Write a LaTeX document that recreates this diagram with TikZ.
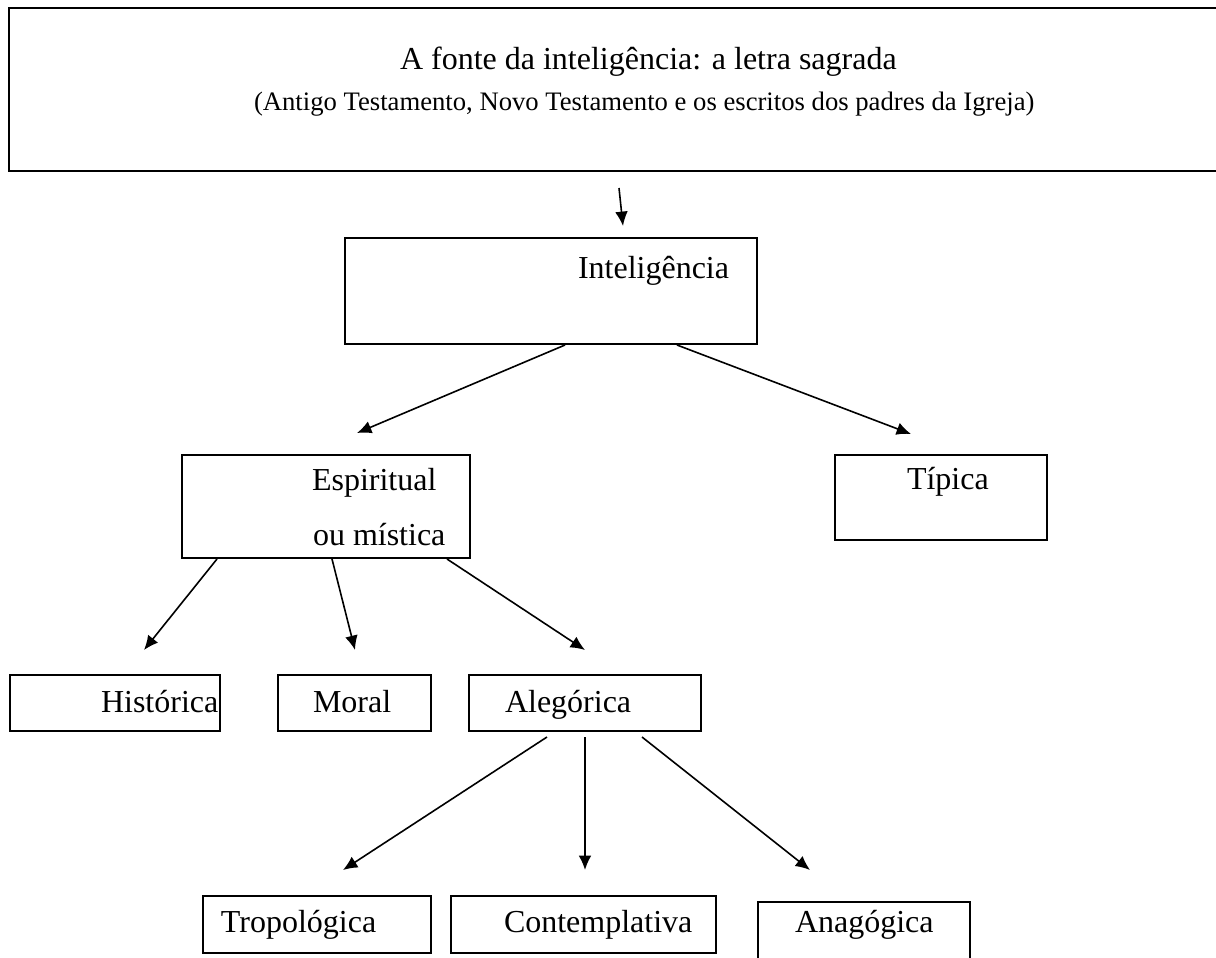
\documentclass[tikz,border=0pt]{standalone}
\usepackage{fontspec}
\setmainfont{Liberation Serif}
\usetikzlibrary{arrows.meta, calc, positioning}

\begin{document}
\begin{tikzpicture}[%
    x=0.375pt, y=-0.375pt,
    >={Latex[length=5.4pt,width=4.8pt]},
    every node/.style={%
      font=\fontsize{12}{14}\selectfont,
      text=black,
      inner sep=0pt, outer sep=0pt
    },
    frame/.style 2 args={draw=black, line width=0.7pt,
      minimum width=#1*0.375pt, minimum height=#2*0.375pt},
    word/.style={anchor=base west},
    link/.style={->, line width=0.6pt}
  ]

  \clip (0,0) rectangle (1216,958);

  % Boxes
  \node[frame={1211}{163}] (src)   at (614.5,89.5) {};
  \node[frame={412}{106}]  (int)   at (551,291)    {};
  \node[frame={288}{103}]  (esp)   at (326,506.5)  {};
  \node[frame={212}{85}]   (tip)   at (941,497.5)  {};
  \node[frame={210}{56}]   (hist)  at (115,703)    {};
  \node[frame={153}{56}]   (moral) at (354.5,703)  {};
  \node[frame={232}{56}]   (aleg)  at (585,703)    {};
  \node[frame={228}{57}]   (trop)  at (317,924.5)  {};
  \node[frame={265}{57}]   (cont)  at (583.5,924.5){};
  \node[frame={212}{73}]   (anag)  at (864,938.5)  {};

  % Texts
  \node[word] (srcA) at (400,69) {A fonte da inteligência: a letra sagrada};
  \node[word, font=\fontsize{10}{12}\selectfont] (srcB) at (254,110)
    {(Antigo Testamento, Novo Testamento e os escritos dos padres da Igreja)};
  \node[word] (intT)   at (578,278) {Inteligência};
  \node[word] (espA)   at (312,490) {Espiritual};
  \node[word] (espB)   at (313,545) {ou mística};
  \node[word] (tipT)   at (907,489) {Típica};
  \node[word] (histT)  at (101,712) {Histórica};
  \node[word] (moralT) at (313,712) {Moral};
  \node[word] (alegT)  at (505,712) {Alegórica};
  \node[word] (tropT)  at (221,932) {Tropológica};
  \node[word] (contT)  at (504,932) {Contemplativa};
  \node[word] (anagT)  at (795,932) {Anagógica};

  % Arrows
  \draw[link] ($(src.south)+(4.5,17)$)   -- ($(int.north)+(72,-12)$);
  \draw[link] ($(int.south)+(14,1)$)     -- ($(esp.north)+(31,-22)$);
  \draw[link] ($(int.south)+(126,1)$)    -- ($(tip.north)+(-30,-21)$);
  \draw[link] ($(esp.south)+(-109,1)$)   -- ($(hist.north)+(29,-25)$);
  \draw[link] ($(esp.south)+(6,1)$)      -- ($(moral.north)+(0.5,-25)$);
  \draw[link] ($(esp.south)+(121,1)$)    -- ($(aleg.north)+(0,-25)$);
  \draw[link] ($(aleg.south)+(-38,6)$)   -- ($(trop.north)+(26,-26)$);
  \draw[link] ($(aleg.south)+(0,6)$)     -- ($(cont.north)+(1.5,-26)$);
  \draw[link] ($(aleg.south)+(57,6)$)    -- ($(anag.north)+(-54,-32)$);

\end{tikzpicture}
\end{document}
